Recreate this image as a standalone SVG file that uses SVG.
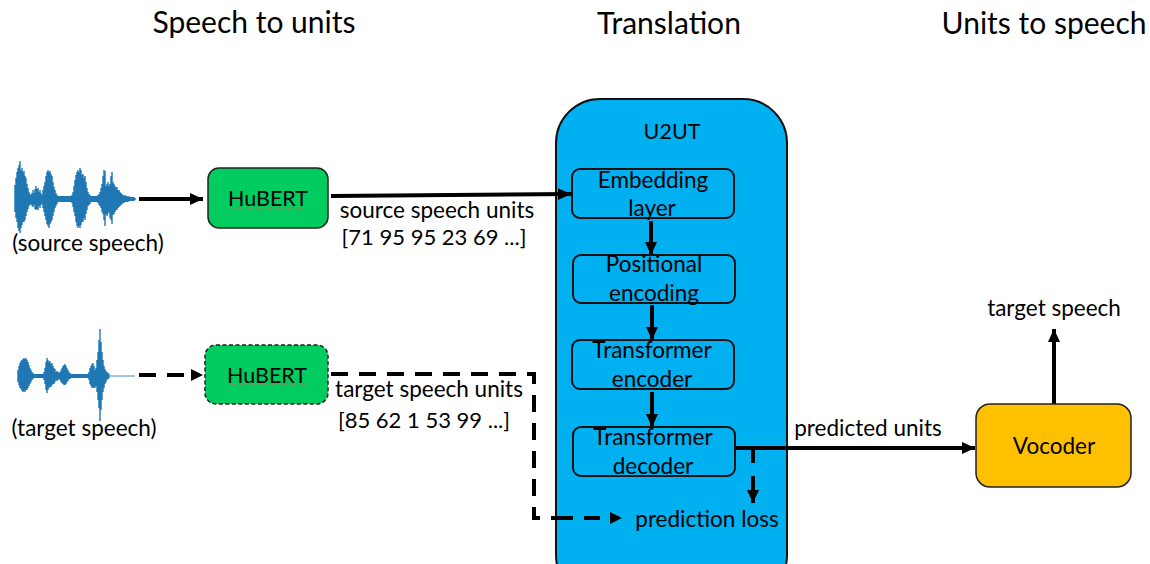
<svg xmlns="http://www.w3.org/2000/svg" width="1150" height="564" viewBox="0 0 1150 564">
<defs>
<marker id="ah" markerUnits="userSpaceOnUse" markerWidth="14" markerHeight="14" refX="13" refY="7" orient="auto"><path d="M0 1 L13 7 L0 13 Z" fill="#000"/></marker>
</defs>
<style>
text{font-family:Lato,"Liberation Sans",sans-serif;fill:#000}
.h{font-size:30px}
.t{font-size:22.5px}
.b{font-size:22px}
.s{font-size:21.5px}
.m{text-anchor:middle}
.c{fill:none;stroke:#000;stroke-width:4}
.d{stroke-dasharray:17 11}
.in{fill:#00b0f0;stroke:#111;stroke-width:2}
.g{fill:#00cc60;stroke:#222;stroke-width:1.5}
.w{fill:none;stroke:#1f77b4;stroke-width:1.4}
.sq{fill:none;stroke:#c07050;stroke-width:1;stroke-dasharray:1.5 1}
</style>
<text class="h m" x="254" y="33">Speech to units</text>
<text class="h m" x="669" y="34">Translation</text>
<text class="h m" x="1044" y="34">Units to speech</text>

<g id="u2ut"><rect class="in" x="556" y="99" width="231" height="500" rx="44"/><text class="s m" x="672" y="139">U2UT</text></g>

<g id="wave-source">
<path class="w" d="M15 185V212M16 178V218M17 172V222M18 168V228M19 165V231M20 161V233M21 170V228M22 168V225M23 172V222M24 171V222M25 176V220M26 178V216M27 184V212M28 188V209M29 192V206M30 194V205M31 195V204M32 193V206M33 190V207M34 193V205M35 189V209M36 186V210M37 189V209M38 188V210M39 192V206M40 190V208M41 193V205M42 195V204M43 190V208M44 186V212M45 182V216M46 176V220M47 172V224M48 170V226M49 172V228M50 171V224M51 174V222M52 176V220M53 182V216M54 187V212M55 190V208M56 193V206M57 195V204M58 196V202M59 196V202M60 196V202M61 196V202M62 196V202M63 196V202M64 196V202M65 196V202M66 196V202M67 196V202M68 196V202M69 196V202M70 196V202M71 196V202M72 195V203M73 192V207M74 186V212M75 180V216M76 175V222M77 172V226M78 170V228M79 172V226M80 168V228M81 170V225M82 175V222M83 174V222M84 178V218M85 176V220M86 182V214M87 188V210M88 192V206M89 194V205M90 195V204M91 196V202M92 196V202M93 196V202M94 196V202M95 196V202M96 196V202M97 196V202M98 195V203M99 194V205M100 192V206M101 188V208M102 184V212M103 176V214M104 170V220M105 171V226M106 186V214M107 184V216M108 182V214M109 186V212M110 184V218M111 176V220M112 172V224M113 182V215M114 184V214M115 186V212M116 188V210M117 187V210M118 190V208M119 190V207M120 192V206M121 193V205M122 194V204M123 195V203M124 196V203M125 195V202M126 196V202M127 196V202M128 197V202M129 196V201M130 197V201M131 197V201M132 197V201M133 197V201M134 197V201M135 198V200"/>
</g>
<g id="wave-target">
<path class="w" d="M18 370V382M19 366V385M20 363V388M21 361V389M22 360V391M23 359V392M24 358V391M25 359V392M26 358V390M27 360V390M28 362V388M29 365V386M30 368V384M31 370V382M32 372V380M33 373V379M34 374V378M35 374V378M36 374V378M37 374V378M38 374V378M39 374V378M40 374V378M41 374V378M42 374V378M43 374V378M44 372V380M45 368V384M46 362V390M47 358V393M48 360V390M49 362V388M50 361V387M51 364V387M52 363V385M53 366V384M54 368V384M55 369V382M56 372V380M57 371V381M58 372V380M59 373V379M60 372V380M61 370V382M62 368V383M63 366V384M64 365V385M65 364V385M66 366V384M67 368V382M68 370V381M69 372V379M70 373V379M71 374V378M72 374V378M73 374V378M74 374V378M75 374V378M76 374V378M77 374V378M78 374V378M79 374V378M80 374V378M81 374V378M82 374V378M83 374V378M84 374V378M85 374V378M86 374V378M87 374V378M88 374V378M89 372V380M90 368V384M91 366V386M92 364V388M93 363V388M94 366V387M95 370V388M96 368V386M97 360V392M98 352V400M99 340V408M100 329V421M101 342V410M102 352V400M103 360V392M104 366V388M105 369V384M106 371V382M107 372V380M108 373V379M109 374V378"/>
<path d="M109 376H135" fill="none" stroke="#7fb3d8" stroke-width="1.5"/>
</g>

<g id="connectors">
<path class="c" marker-end="url(#ah)" d="M139 199 H203"/>
<path class="c" marker-end="url(#ah)" d="M331 196 L571 194"/>
<path class="c d" d="M139 375 H190"/><path d="M191 369 L203 375 L191 381 Z"/>
<path class="c d" d="M331 374 H534 V518 H560"/>
<path class="c d" d="M556 518 H600"/><path d="M610 512 L622 518 L610 524 Z"/>
<path class="c" marker-end="url(#ah)" d="M651 221 V255"/>
<path class="c" marker-end="url(#ah)" d="M652 305 V340"/>
<path class="c" marker-end="url(#ah)" d="M652 392 V427"/>
<path class="c" marker-end="url(#ah)" d="M735 448 H975"/>
<path class="c" d="M753 448 V463"/>
<path class="c" marker-end="url(#ah)" d="M753 476 V503"/>
<path class="c" marker-end="url(#ah)" d="M1054 404 V329"/>
</g>

<g id="hubert-1"><rect class="g" x="208" y="168" width="120" height="60" rx="11"/><text class="s m" x="268" y="206">HuBERT</text><path class="sq" d="M230 208 H306"/></g>
<g id="hubert-2"><rect class="g" x="205" y="345" width="123" height="59" rx="11" stroke-dasharray="4 2.5"/><text class="s m" x="267" y="383">HuBERT</text><path class="sq" d="M229 385 H305"/></g>
<g id="embedding"><rect class="in" x="572" y="169" width="162" height="49" rx="8"/><text class="t m" x="653" y="188">Embedding</text><text class="t m" x="652" y="216">layer</text></g>
<g id="positional"><rect class="in" x="573" y="255" width="162" height="48" rx="8"/><text class="t m" x="654" y="272">Positional</text><text class="t m" x="654" y="301">encoding</text></g>
<g id="encoder"><rect class="in" x="572" y="340" width="162" height="49" rx="8"/><text class="t m" x="652" y="358">Transformer</text><text class="t m" x="652" y="387">encoder</text></g>
<g id="decoder"><rect class="in" x="573" y="427" width="162" height="49" rx="8"/><text class="t m" x="653" y="445">Transformer</text><text class="t m" x="653" y="474">decoder</text></g>
<g id="vocoder"><rect x="976" y="404" width="155" height="83" rx="14" fill="#ffc000" stroke="#222" stroke-width="1.5"/><text class="t m" x="1054" y="454">Vocoder</text></g>

<text class="t m" x="88" y="251">(source speech)</text>
<text class="t m" x="84" y="436">(target speech)</text>
<text class="t m" x="437" y="218">source speech units</text>
<text class="b m" x="434" y="245">[71 95 95 23 69 ...]</text>
<text class="t m" x="429" y="397">target speech units</text>
<text class="b m" x="424" y="428">[85 62 1 53 99 ...]</text>
<text class="t m" x="707" y="527">prediction loss</text>
<text class="t m" x="868" y="436">predicted units</text>
<text class="t m" x="1054" y="316">target speech</text>
</svg>
